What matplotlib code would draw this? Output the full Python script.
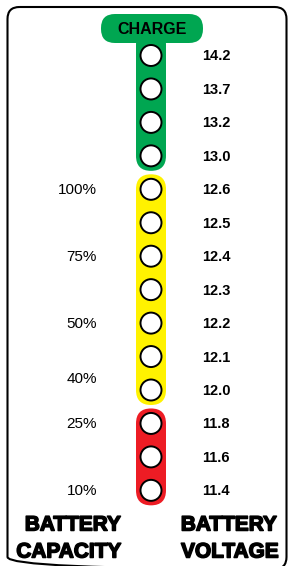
import matplotlib.pyplot as plt
from matplotlib.patches import Circle, FancyBboxPatch
import matplotlib.patheffects as pe

plt.rcParams['font.family'] = ['Liberation Sans', 'DejaVu Sans']

# voltage per indicator light, top to bottom
voltages = ["14.2", "13.7", "13.2", "13.0", "12.6", "12.5", "12.4",
            "12.3", "12.2", "12.1", "12.0", "11.8", "11.6", "11.4"]
# how many lights fall in each zone
zone_names = ["charge", "good", "low"]
zone_sizes = [4, 7, 3]
zone_colors = ["#00A651", "#FFF200", "#ED1C24"]
# capacity labels and the light slot they sit at
capacity = ["100%", "75%", "50%", "40%", "25%", "10%"]
capacity_slot = [4, 6, 8, 9.65, 11, 13]

# layout (pixels)
x0 = 151
y0 = 55.5
step = 33.45
r = 10.5
half = 15

def slot_y(i):
    return y0 + i * step

fig = plt.figure(figsize=(2.88, 5.66), dpi=100)
ax = fig.add_axes([0, 0, 1, 1])
ax.set_xlim(0, 288)
ax.set_ylim(566, 0)
ax.axis('off')

# outer frame
ax.add_patch(FancyBboxPatch((7.5, 7), 279, 562, boxstyle="round,pad=0,rounding_size=12",
                            fill=False, ec='black', lw=1.5, clip_on=False))

# colored pills
start = 0
for name, n, c in zip(zone_names, zone_sizes, zone_colors):
    top = slot_y(start) - half
    bot = slot_y(start + n - 1) + half
    if name == "charge":
        top = 30
    ax.add_patch(FancyBboxPatch((x0 - half, top), 2 * half, bot - top,
                                boxstyle="round,pad=0,rounding_size=%g" % half,
                                fc=c, ec='none'))
    start += n

# charge header
ax.add_patch(FancyBboxPatch((101, 14), 102, 29, boxstyle="round,pad=0,rounding_size=14",
                            fc=zone_colors[0], ec='none'))
ax.text(152, 29.5, "CHARGE", ha='center', va='center', fontsize=11.5, fontweight='bold')

# lights and voltage labels
for i, v in enumerate(voltages):
    y = slot_y(i)
    ax.add_patch(Circle((x0, y), r, fc='white', ec='black', lw=1.4))
    ax.text(202, y + 1, v, ha='left', va='center', fontsize=10.5, fontweight='bold')

for lab, s in zip(capacity, capacity_slot):
    ax.text(97, slot_y(s) + 1, lab, ha='right', va='center', fontsize=11)

heavy = [pe.withStroke(linewidth=1.1, foreground='black')]
for txt, x, y in [("BATTERY", 73, 525), ("CAPACITY", 69, 552),
                  ("BATTERY", 229, 525), ("VOLTAGE", 230, 552)]:
    ax.text(x, y, txt, ha='center', va='center', fontsize=15, fontweight='bold',
            path_effects=heavy)

fig.savefig("out.png", dpi=100)
